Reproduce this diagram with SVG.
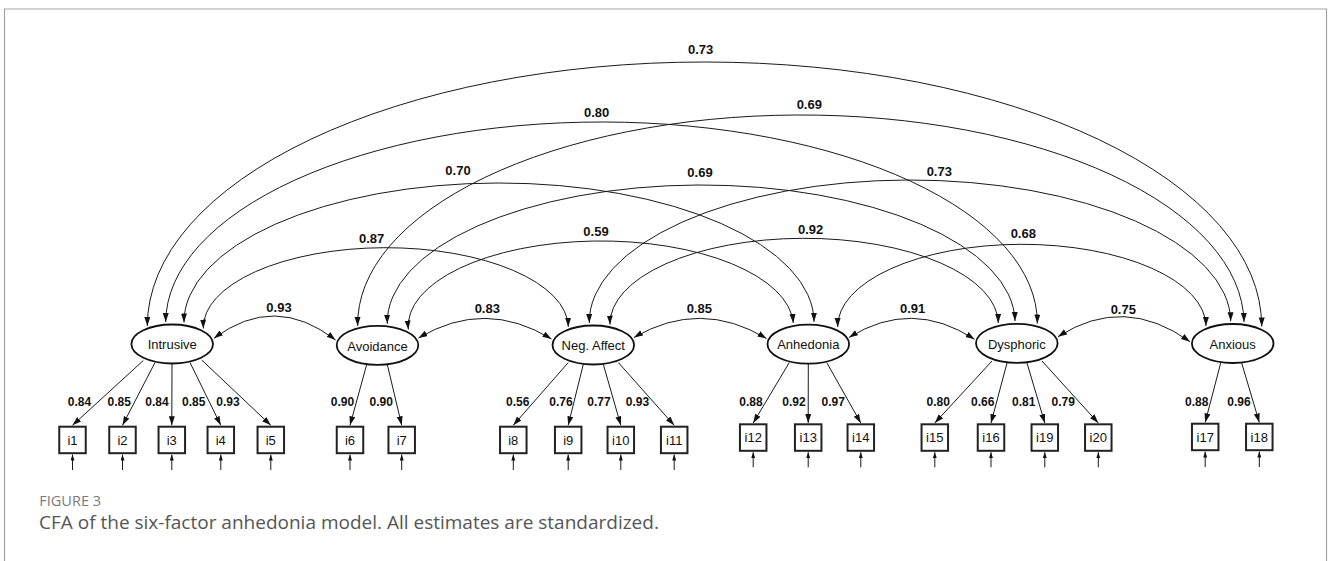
<svg xmlns="http://www.w3.org/2000/svg" width="1328" height="561" viewBox="0 0 1328 561">
<defs>
<style>
.frame{fill:none;stroke:#a3a3a3;stroke-width:1.2}
.lat ellipse{fill:#fff;stroke:#111;stroke-width:1.8}
.nt{font-family:"Liberation Sans",Arial,Helvetica,sans-serif;font-size:13px;fill:#111;text-anchor:middle}
.obs rect{fill:#fff;stroke:#222;stroke-width:2}
.cov path{fill:none;stroke:#1a1a1a;stroke-width:1;marker-start:url(#ah);marker-end:url(#ah)}
.load line{stroke:#1a1a1a;stroke-width:1;marker-end:url(#ah)}
.res line{stroke:#1a1a1a;stroke-width:1;marker-end:url(#ahs)}
.lbl{font-family:"Liberation Sans",Arial,Helvetica,sans-serif;font-weight:bold;font-size:13px;fill:#111;text-anchor:middle}
.ld{font-size:12px}
.fig{font-family:"Open Sans",sans-serif;font-size:14.5px;fill:#7a7a7a}
.cap{font-family:"Open Sans",sans-serif;font-size:19px;fill:#555}
</style>
<marker id="ah" markerUnits="userSpaceOnUse" markerWidth="10" markerHeight="7" refX="9" refY="3" orient="auto-start-reverse" viewBox="0 0 10 7"><path d="M0,0 L9,3 L0,6 z" fill="#111"/></marker>
<marker id="ahs" markerUnits="userSpaceOnUse" markerWidth="7" markerHeight="5" refX="6" refY="2" orient="auto" viewBox="0 0 7 5"><path d="M0,0 L6,2 L0,4 z" fill="#111"/></marker>
</defs>
<rect width="1328" height="561" fill="#fff"/>
<path class="frame" d="M4.5,561 V9 H1326.5 V561"/>

<g id="connectors">
<g class="cov">
<path d="M147.3,326 A557.2,264.25 0 0 1 1261.7,326.5"/>
<path d="M165.7,322 A435.8,200.75 0 0 1 1037.3,323.5"/>
<path d="M184,322.5 A315,139.15 0 0 1 814,321.8"/>
<path d="M203.3,328.5 A182.5,79.95 0 0 1 568.3,326.8"/>
<path d="M357.7,326 A443.15,209 0 0 1 1244,322"/>
<path d="M387.3,323.8 A313.85,137.4 0 0 1 1015,321"/>
<path d="M408.3,329.5 A192.5,85.25 0 0 1 793.3,323"/>
<path d="M589.3,323 A320.7,142.15 0 0 1 1230.7,321.3"/>
<path d="M610,324.5 A194.15,85.45 0 0 1 998.3,323"/>
<path d="M837.7,327 A184.15,82.2 0 0 1 1206,326"/>
<path d="M214,338.3 Q274.75,292.85 335.5,340"/>
<path d="M418.5,338 Q485,298.3 551.5,339"/>
<path d="M634,337.5 Q700.25,298.7 766.5,338.5"/>
<path d="M849,337.5 Q911.75,298.3 974.5,339.3"/>
<path d="M1058,336.7 Q1124,294.2 1190,341.7"/>
</g>
<g class="lbl">
<text x="700.7" y="53.7">0.73</text>
<text x="596.7" y="117.3">0.80</text>
<text x="809.3" y="109.3">0.69</text>
<text x="458" y="175.3">0.70</text>
<text x="700" y="176.7">0.69</text>
<text x="939.3" y="176">0.73</text>
<text x="371.7" y="243.3">0.87</text>
<text x="596" y="236">0.59</text>
<text x="810.7" y="234.3">0.92</text>
<text x="1023.3" y="237.7">0.68</text>
<text x="279" y="311.7">0.93</text>
<text x="487.3" y="313.3">0.83</text>
<text x="699.3" y="313.3">0.85</text>
<text x="912.7" y="313.3">0.91</text>
<text x="1123.3" y="314">0.75</text>
</g>
<g class="load">
<line x1="143.3" y1="360.5" x2="72.5" y2="425.3"/>
<line x1="155" y1="362.5" x2="122.5" y2="425.3"/>
<line x1="172" y1="363.5" x2="171.8" y2="425.3"/>
<line x1="190" y1="362.5" x2="220.8" y2="425.3"/>
<line x1="201.7" y1="360" x2="270.8" y2="425.3"/>
<line x1="366.7" y1="364.5" x2="350" y2="425.3"/>
<line x1="387.3" y1="364.5" x2="401.7" y2="425.3"/>
<line x1="568.3" y1="362.5" x2="513.3" y2="425.3"/>
<line x1="583.3" y1="364.3" x2="568.2" y2="425.3"/>
<line x1="603.3" y1="364.3" x2="620.8" y2="425.3"/>
<line x1="618.3" y1="362.5" x2="674.2" y2="425.3"/>
<line x1="789.3" y1="362.5" x2="753.2" y2="423"/>
<line x1="808.3" y1="363.5" x2="808.2" y2="423"/>
<line x1="826.7" y1="362.5" x2="860.8" y2="423"/>
<line x1="992" y1="361" x2="934.8" y2="423"/>
<line x1="1007" y1="363" x2="991" y2="423"/>
<line x1="1027" y1="363" x2="1044.8" y2="423"/>
<line x1="1042" y1="361" x2="1098.3" y2="423"/>
<line x1="1220.7" y1="363" x2="1205.2" y2="422.4"/>
<line x1="1241.7" y1="363" x2="1259.3" y2="422.4"/>
</g>
<g class="lbl ld">
<text x="79.5" y="406">0.84</text>
<text x="119.2" y="406">0.85</text>
<text x="157" y="406">0.84</text>
<text x="193.7" y="406">0.85</text>
<text x="228" y="406">0.93</text>
<text x="342.5" y="406">0.90</text>
<text x="381.3" y="406">0.90</text>
<text x="517.7" y="406">0.56</text>
<text x="561" y="406">0.76</text>
<text x="599" y="406">0.77</text>
<text x="637.5" y="406">0.93</text>
<text x="751" y="406">0.88</text>
<text x="794" y="406">0.92</text>
<text x="833.3" y="406">0.97</text>
<text x="938.3" y="406">0.80</text>
<text x="982.7" y="406">0.66</text>
<text x="1023.7" y="406">0.81</text>
<text x="1063.3" y="406">0.79</text>
<text x="1196.7" y="406">0.88</text>
<text x="1239" y="406">0.96</text>
</g>
<g class="res">
<line x1="72.5" y1="470" x2="72.5" y2="454.6"/>
<line x1="122.5" y1="470" x2="122.5" y2="454.6"/>
<line x1="171.8" y1="470" x2="171.8" y2="454.6"/>
<line x1="220.8" y1="470" x2="220.8" y2="454.6"/>
<line x1="270.8" y1="470" x2="270.8" y2="454.6"/>
<line x1="350" y1="470" x2="350" y2="454.6"/>
<line x1="401.7" y1="470" x2="401.7" y2="454.6"/>
<line x1="513.3" y1="470" x2="513.3" y2="454.6"/>
<line x1="568.2" y1="470" x2="568.2" y2="454.6"/>
<line x1="620.8" y1="470" x2="620.8" y2="454.6"/>
<line x1="674.2" y1="470" x2="674.2" y2="454.6"/>
<line x1="753.2" y1="467.3" x2="753.2" y2="452.2"/>
<line x1="808.2" y1="467.3" x2="808.2" y2="452.2"/>
<line x1="860.8" y1="467.3" x2="860.8" y2="452.2"/>
<line x1="934.8" y1="467.3" x2="934.8" y2="452.2"/>
<line x1="991" y1="467.3" x2="991" y2="452.2"/>
<line x1="1044.8" y1="467.3" x2="1044.8" y2="452.2"/>
<line x1="1098.3" y1="467.3" x2="1098.3" y2="452.2"/>
<line x1="1205.2" y1="467" x2="1205.2" y2="451.6"/>
<line x1="1259.3" y1="467" x2="1259.3" y2="451.6"/>
</g>
</g>

<g class="lat">
<g id="F1"><ellipse cx="172.2" cy="344" rx="40.8" ry="19.5"/><text class="nt" x="172.2" y="349.3">Intrusive</text></g>
<g id="F2"><ellipse cx="377.5" cy="345.3" rx="40.8" ry="19.5"/><text class="nt" x="377.5" y="350.5">Avoidance</text></g>
<g id="F3"><ellipse cx="593.3" cy="345" rx="40.8" ry="19.5"/><text class="nt" x="593.3" y="350.2">Neg. Affect</text></g>
<g id="F4"><ellipse cx="808.3" cy="344.2" rx="40.8" ry="19.5"/><text class="nt" x="808.3" y="349.4">Anhedonia</text></g>
<g id="F5"><ellipse cx="1016.8" cy="343.3" rx="40.8" ry="19.5"/><text class="nt" x="1016.8" y="348.5">Dysphoric</text></g>
<g id="F6"><ellipse cx="1232.7" cy="343.5" rx="40.8" ry="19.5"/><text class="nt" x="1232.7" y="348.7">Anxious</text></g>
</g>

<g class="obs">
<g id="i1"><rect x="59.25" y="426.7" width="26.5" height="26.5"/><text class="nt" x="72.5" y="444.5">i1</text></g>
<g id="i2"><rect x="109.25" y="426.7" width="26.5" height="26.5"/><text class="nt" x="122.5" y="444.5">i2</text></g>
<g id="i3"><rect x="158.55" y="426.7" width="26.5" height="26.5"/><text class="nt" x="171.8" y="444.5">i3</text></g>
<g id="i4"><rect x="207.55" y="426.7" width="26.5" height="26.5"/><text class="nt" x="220.8" y="444.5">i4</text></g>
<g id="i5"><rect x="257.55" y="426.7" width="26.5" height="26.5"/><text class="nt" x="270.8" y="444.5">i5</text></g>
<g id="i6"><rect x="336.75" y="426.7" width="26.5" height="26.5"/><text class="nt" x="350" y="444.5">i6</text></g>
<g id="i7"><rect x="388.45" y="426.7" width="26.5" height="26.5"/><text class="nt" x="401.7" y="444.5">i7</text></g>
<g id="i8"><rect x="500.05" y="426.7" width="26.5" height="26.5"/><text class="nt" x="513.3" y="444.5">i8</text></g>
<g id="i9"><rect x="554.95" y="426.7" width="26.5" height="26.5"/><text class="nt" x="568.2" y="444.5">i9</text></g>
<g id="i10"><rect x="607.55" y="426.7" width="26.5" height="26.5"/><text class="nt" x="620.8" y="444.5">i10</text></g>
<g id="i11"><rect x="660.95" y="426.7" width="26.5" height="26.5"/><text class="nt" x="674.2" y="444.5">i11</text></g>
<g id="i12"><rect x="739.95" y="424.3" width="26.5" height="26.5"/><text class="nt" x="753.2" y="442.1">i12</text></g>
<g id="i13"><rect x="794.95" y="424.3" width="26.5" height="26.5"/><text class="nt" x="808.2" y="442.1">i13</text></g>
<g id="i14"><rect x="847.55" y="424.3" width="26.5" height="26.5"/><text class="nt" x="860.8" y="442.1">i14</text></g>
<g id="i15"><rect x="921.55" y="424.3" width="26.5" height="26.5"/><text class="nt" x="934.8" y="442.1">i15</text></g>
<g id="i16"><rect x="977.75" y="424.3" width="26.5" height="26.5"/><text class="nt" x="991" y="442.1">i16</text></g>
<g id="i19"><rect x="1031.55" y="424.3" width="26.5" height="26.5"/><text class="nt" x="1044.8" y="442.1">i19</text></g>
<g id="i20"><rect x="1085.05" y="424.3" width="26.5" height="26.5"/><text class="nt" x="1098.3" y="442.1">i20</text></g>
<g id="i17"><rect x="1191.95" y="423.7" width="26.5" height="26.5"/><text class="nt" x="1205.2" y="441.5">i17</text></g>
<g id="i18"><rect x="1246.05" y="423.7" width="26.5" height="26.5"/><text class="nt" x="1259.3" y="441.5">i18</text></g>
</g>

<text class="fig" x="39.3" y="505.7">FIGURE 3</text>
<text class="cap" x="39" y="529">CFA of the six-factor anhedonia model. All estimates are standardized.</text>
</svg>
